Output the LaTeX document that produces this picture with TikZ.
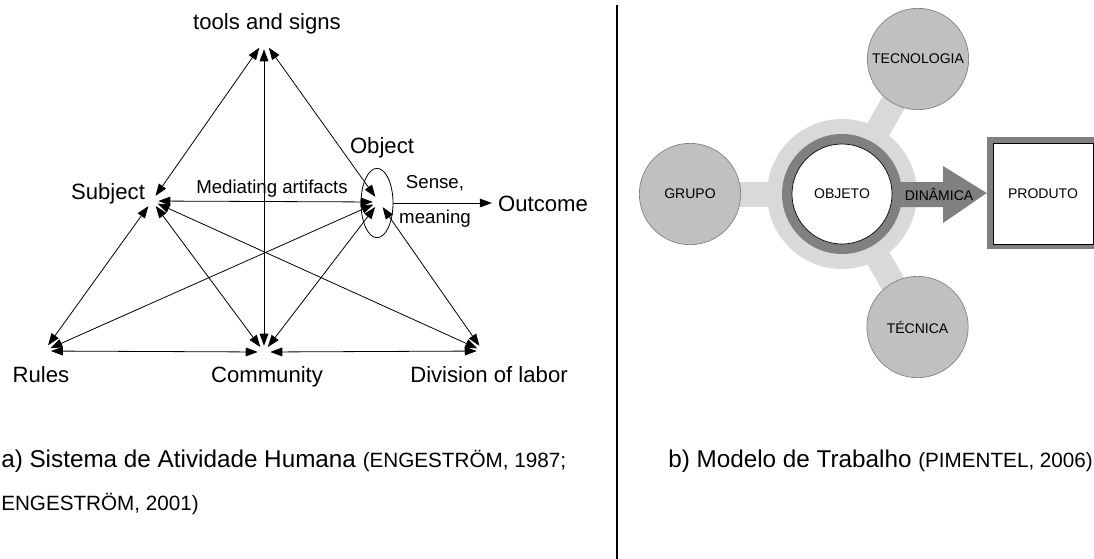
\documentclass[tikz,border=0pt]{standalone}
\usepackage{fontspec}
\setmainfont{Liberation Sans}
\usetikzlibrary{arrows.meta,shapes.geometric,backgrounds}
\definecolor{ringlight}{HTML}{D9D9D9}
\definecolor{ringdark}{HTML}{808080}
\definecolor{discfill}{HTML}{C0C0C0}
\tikzset{
  biglabel/.style={font=\fontsize{16.6}{20}\selectfont,anchor=base},
  smalllabel/.style={font=\fontsize{14}{17}\selectfont,anchor=base},
  hub/.style={circle,inner sep=0pt,minimum size=#1},
  tip/.tip={Triangle[length=9pt,width=6.5pt]},
  link/.style={line width=0.6pt,tip-tip},
  disc/.style={circle,fill=discfill,draw=ringdark,line width=0.5pt,minimum size=76pt,inner sep=0pt,font=\fontsize{10.5}{12}\selectfont},
  bar/.style={line width=18.75pt,ringlight},
  capmain/.style={anchor=base west,inner sep=0pt},
}
\newcommand{\capbig}{\fontsize{18.2}{22}\selectfont}
\newcommand{\capsmall}{\fontsize{15.5}{19}\selectfont}
\begin{document}
\begin{tikzpicture}[x=0.75pt,y=-0.75pt]
\clip (0,0) rectangle (1094,558);

% ---------- activity system triangle ----------
\node[hub=12pt] (T) at (264,41) {};
\node[hub=9pt]  (S) at (152,201) {};
\node[hub=9pt]  (O) at (379,202) {};
\node[hub=10pt] (R) at (44,351) {};
\node[hub=9pt]  (C) at (264,352) {};
\node[hub=9pt]  (D) at (483,351) {};
\node[draw,ellipse,line width=0.6pt,minimum width=24pt,minimum height=52pt,inner sep=0pt] (objring) at (377,203) {};

\node[biglabel] (tools) at (267,29) {tools and signs};
\node[biglabel] (subj) at (108,199) {Subject};
\node[biglabel] (objl) at (382,153) {Object};
\node[smalllabel] (medi) at (272,193) {Mediating artifacts};
\node[smalllabel] (sense) at (435,188) {Sense,};
\node[smalllabel] (mean) at (435,223) {meaning};
\node[biglabel,inner xsep=4.5pt] (outcome) at (543,211) {Outcome};
\node[biglabel] (rules) at (41,382) {Rules};
\node[biglabel] (comm) at (267,382) {Community};
\node[biglabel] (divl) at (489,382) {Division of labor};

\draw[link] (T) -- (S);
\draw[link] (T) -- (O);
\draw[link] (T) -- (C);
\draw[link] (S) -- (O);
\draw[link] (S) -- (R);
\draw[link] (S) -- (C);
\draw[link] (S) -- (D);
\draw[link] (O) -- (R);
\draw[link] (O) -- (C);
\draw[link] (O) -- (D);
\draw[link] (R) -- (C);
\draw[link] (C) -- (D);
\draw[line width=0.6pt,-tip] (objring.east) -- (outcome.west |- objring.east);

\node[capmain] (capa) at (1,467) {\capbig a) Sistema de Atividade Humana \capsmall(ENGESTRÖM, 1987;};
\node[capmain] (capa2) at (1,510) {\capsmall ENGESTRÖM, 2001)};

% ---------- separator ----------
\draw[line width=1.5pt] (617,5) -- (617,562);

% ---------- work model ----------
\node[fill=ringdark,minimum width=84.75pt,minimum height=84pt,inner sep=0pt] (prodframe) at (1043.5,193) {};
\node[fill=white,draw=black,line width=0.5pt,minimum width=75pt,minimum height=75.5pt,inner sep=0pt,font=\fontsize{10.5}{12}\selectfont] (prod) at (1043,193.5) {PRODUTO};

\node[circle,fill=ringlight,minimum size=112.5pt,inner sep=0pt] (outer) at (842,194) {};
\fill[ringdark] (880,182) -- (943,182) -- (943,166) -- (prodframe.west) -- (943,223) -- (943,207) -- (880,207) -- cycle;
\node[circle,fill=ringdark,minimum size=90pt,inner sep=0pt] (mid) at (842,194) {};
\node[circle,fill=white,draw=black,line width=0.5pt,minimum size=75pt,inner sep=0pt,font=\fontsize{10.5}{12}\selectfont] (obj) at (842,194) {OBJETO};

\node[disc] (grupo) at (690,194) {GRUPO};
\node[disc] (tec) at (918,59) {TECNOLOGIA};
\node[disc] (tecn) at (917.5,327) {TÉCNICA};

\begin{scope}[on background layer]
  \draw[bar] (outer.center) -- (grupo.center);
  \draw[bar] (outer.center) -- (tec.center);
  \draw[bar] (outer.center) -- (tecn.center);
\end{scope}

\node[font=\fontsize{10.5}{12}\selectfont] (dyn) at (939,194) {DINÂMICA};

\node[capmain] (capb) at (668,467) {\capbig b) Modelo de Trabalho \capsmall(PIMENTEL, 2006)};
\end{tikzpicture}
\end{document}
